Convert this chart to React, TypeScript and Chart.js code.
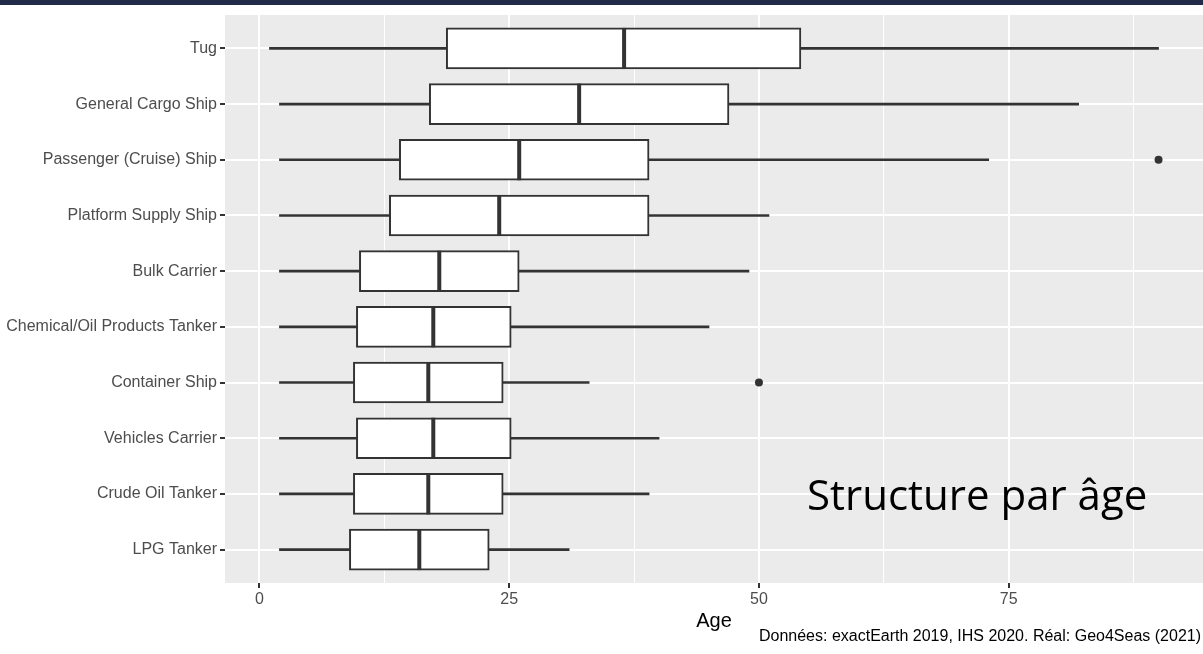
import React, { useEffect, useRef } from 'react';
import { Chart, registerables } from 'chart.js';

Chart.register(...registerables);

const categories = [
  'Tug',
  'General Cargo Ship',
  'Passenger (Cruise) Ship',
  'Platform Supply Ship',
  'Bulk Carrier',
  'Chemical/Oil Products Tanker',
  'Container Ship',
  'Vehicles Carrier',
  'Crude Oil Tanker',
  'LPG Tanker',
];
const whiskerLow = [1, 2, 2, 2, 2, 2, 2, 2, 2, 2];
const q1 = [18.7, 17, 14, 13, 10, 9.7, 9.4, 9.7, 9.4, 9];
const median = [36.5, 32, 26, 24, 18, 17.4, 16.9, 17.4, 16.9, 16];
const q3 = [54.2, 47, 39, 39, 26, 25.2, 24.4, 25.2, 24.4, 23];
const whiskerHigh = [90, 82, 73, 51, 49, 45, 33, 40, 39, 31];
const outlierCategory = ['Passenger (Cruise) Ship', 'Container Ship'];
const outlierValue = [90, 50];
const xMajorTicks = [0, 25, 50, 75];
const xMinorTicks = [12.5, 37.5, 62.5, 87.5];
const xAxisTitle = 'Age';
const caption = 'Données: exactEarth 2019, IHS 2020. Réal: Geo4Seas (2021)';
const annotation = 'Structure par âge';

export default function App() {
  const ref = useRef<HTMLCanvasElement>(null);

  useEffect(() => {
    document.body.style.margin = '0';
    const canvas = ref.current;
    if (!canvas) return;
    const DARK = '#333333';
    const FONT = "'Liberation Sans', Arial, Helvetica, sans-serif";
    const pos = (c: string) => categories.indexOf(c) + 1;

    const bgPlugin = {
      id: 'bgPlugin',
      beforeDraw(chart: any) {
        const { ctx, chartArea: a, width, height } = chart;
        ctx.save();
        ctx.fillStyle = '#ffffff';
        ctx.fillRect(0, 0, width, height);
        ctx.fillStyle = '#222A4A';
        ctx.fillRect(0, 0, width, 5);
        ctx.fillStyle = '#EBEBEB';
        ctx.fillRect(a.left, a.top, a.right - a.left, a.bottom - a.top);
        ctx.restore();
      },
      afterDraw(chart: any) {
        const { ctx, width } = chart;
        ctx.save();
        ctx.fillStyle = '#000000';
        ctx.font = `16px ${FONT}`;
        ctx.textAlign = 'right';
        ctx.textBaseline = 'middle';
        ctx.fillText(caption, width - 2, 637);
        ctx.font = "42px 'Open Sans', 'Noto Sans', sans-serif";
        ctx.textAlign = 'left';
        ctx.textBaseline = 'alphabetic';
        ctx.fillText(annotation, 807, 510);
        ctx.restore();
      },
    };

    const chart = new Chart(canvas, {
      type: 'bar',
      data: {
        datasets: [
          {
            type: 'bar',
            indexAxis: 'y',
            data: categories.map((_, i) => ({ x: [whiskerLow[i], whiskerHigh[i]], y: i + 1 })),
            backgroundColor: DARK,
            borderWidth: 0,
            barThickness: 2,
            grouped: false,
            order: 4,
          } as any,
          {
            type: 'bar',
            indexAxis: 'y',
            data: categories.map((_, i) => ({ x: [q1[i], q3[i]], y: i + 1 })),
            backgroundColor: '#ffffff',
            borderColor: DARK,
            borderWidth: 2,
            borderSkipped: false,
            barThickness: 41,
            grouped: false,
            order: 3,
          } as any,
          {
            type: 'scatter',
            data: categories.map((_, i) => ({ x: median[i], y: i + 1 })),
            pointStyle: 'line',
            pointRotation: 90,
            pointRadius: 20.5,
            pointBorderColor: DARK,
            pointBorderWidth: 4,
            pointBackgroundColor: DARK,
            clip: false,
            order: 2,
          } as any,
          {
            type: 'scatter',
            data: outlierCategory.map((c, i) => ({ x: outlierValue[i], y: pos(c) })),
            pointStyle: 'circle',
            pointRadius: 4,
            pointBackgroundColor: DARK,
            pointBorderWidth: 0,
            order: 1,
          } as any,
        ],
      },
      options: {
        responsive: false,
        animation: false,
        events: [],
        layout: { autoPadding: false, padding: { top: 15, right: 0, bottom: 0, left: 0 } },
        plugins: {
          legend: { display: false },
          tooltip: { enabled: false },
          title: { display: false },
        },
        scales: {
          x: {
            type: 'linear',
            position: 'bottom',
            offset: false,
            min: -3.45,
            max: 94.45,
            afterBuildTicks: (s: any) => {
              s.ticks = [...xMajorTicks, ...xMinorTicks]
                .sort((a, b) => a - b)
                .map((v) => ({ value: v }));
            },
            afterFit: (s: any) => {
              s.height = 71;
            },
            ticks: {
              autoSkip: false,
              maxRotation: 0,
              padding: 2,
              color: '#4D4D4D',
              font: { size: 16, family: FONT },
              callback: (v: any) => (xMajorTicks.includes(Number(v)) ? String(v) : ''),
            },
            grid: {
              offset: false,
              color: '#ffffff',
              lineWidth: (ctx: any) => (ctx.tick && xMajorTicks.includes(ctx.tick.value) ? 2 : 1),
              tickColor: (ctx: any) =>
                ctx.tick && xMajorTicks.includes(ctx.tick.value) ? DARK : 'rgba(0,0,0,0)',
              tickLength: 5,
              tickWidth: 2,
            },
            border: { display: false },
            title: {
              display: true,
              text: xAxisTitle,
              color: '#000000',
              font: { size: 20, family: FONT },
              padding: { top: 0, bottom: 21 },
            },
          },
          y: {
            type: 'linear',
            position: 'left',
            offset: false,
            reverse: true,
            min: 0.4,
            max: 10.6,
            afterBuildTicks: (s: any) => {
              s.ticks = categories.map((_, i) => ({ value: i + 1 }));
            },
            afterFit: (s: any) => {
              s.width = 225;
            },
            ticks: {
              autoSkip: false,
              padding: 3,
              color: '#4D4D4D',
              font: { size: 16, family: FONT },
              callback: (v: any) => categories[Number(v) - 1] ?? '',
            },
            grid: {
              offset: false,
              color: '#ffffff',
              lineWidth: 2,
              tickColor: DARK,
              tickLength: 5,
              tickWidth: 2,
            },
            border: { display: false },
          },
        },
      } as any,
      plugins: [bgPlugin],
    });

    return () => chart.destroy();
  }, []);

  return (
    <div style={{ width: 1203, height: 654, position: 'relative' }}>
      <canvas ref={ref} width={1203} height={654} style={{ display: 'block' }} />
    </div>
  );
}
